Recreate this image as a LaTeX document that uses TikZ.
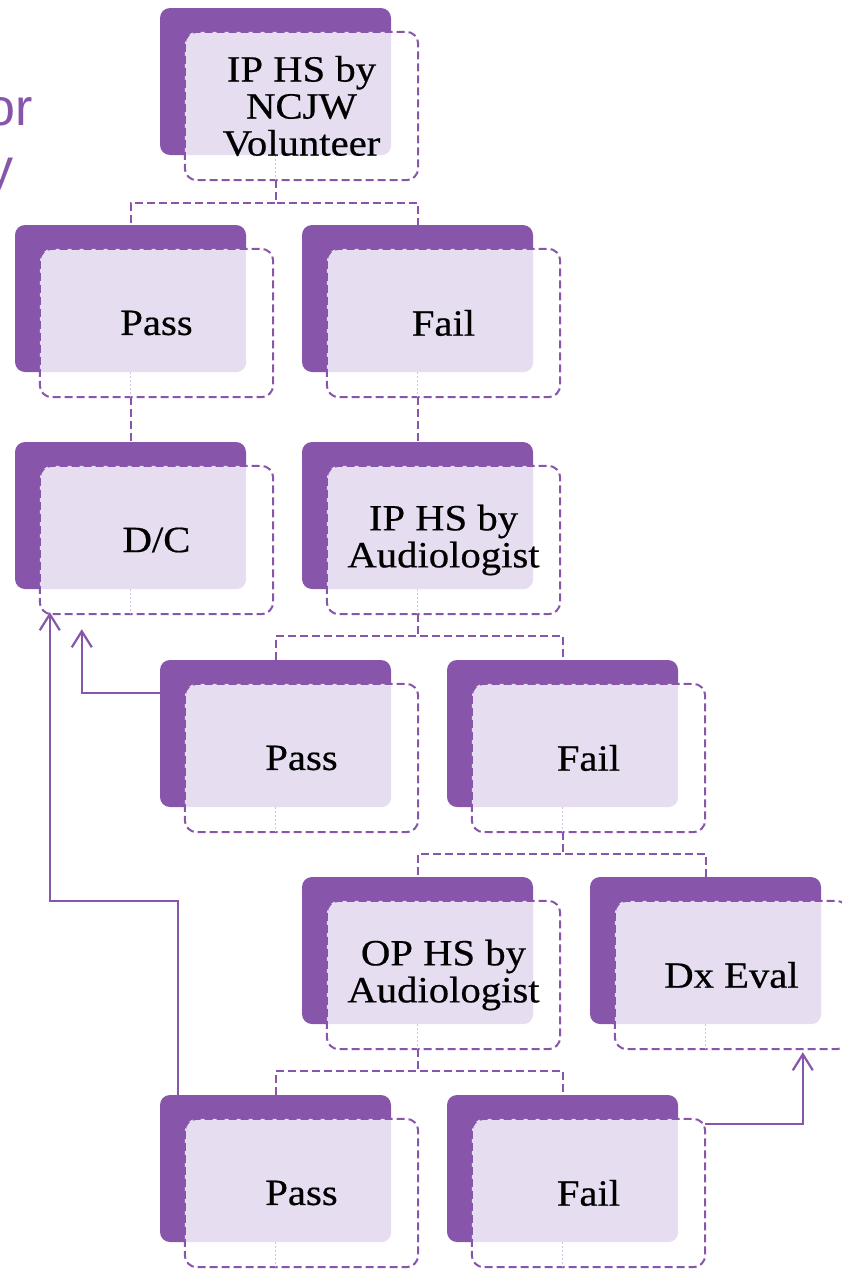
\documentclass[tikz,border=0pt]{standalone}
\usepackage{fontspec}
\setmainfont{Liberation Serif}[FakeStretch=1.1,FakeBold=0.5]
\newfontfamily\titlesans{Liberation Sans}
\usetikzlibrary{arrows.meta,calc}
\definecolor{pur}{HTML}{8755AA}
\definecolor{lav}{HTML}{E6DEF0}
\tikzset{
  backbox/.style={rectangle, fill=pur, rounded corners=10pt, minimum width=231pt, minimum height=147pt, inner sep=0pt},
  frontbox/.style={rectangle, fill=white, rounded corners=12pt, minimum width=233pt, minimum height=148pt, inner sep=0pt},
  frontline/.style={draw=pur, line width=2pt, dash pattern=on 8pt off 4pt, rounded corners=12pt},
  labeltext/.style={font=\fontsize{37}{37}\selectfont, align=center, inner sep=0pt, text=black},
  conn/.style={draw=pur, line width=2pt, dash pattern=on 8pt off 4pt},
  faint/.style={draw=pur!35, line width=1pt, dash pattern=on 2pt off 2pt},
  arr/.style={draw=pur, line width=2.2pt, -{Straight Barb[length=16pt,width=20pt,line width=2.2pt]}},
  titletext/.style={font=\titlesans\fontsize{52}{60}\selectfont, text=pur, inner sep=0pt, anchor=base east}
}
\newcommand\flowbox[4]{%
  \node[backbox] (b#1) at (#2+115.5,#3+73.5) {};
  \node[frontbox] (f#1) at (#2+141.5,#3+98) {};
  \begin{scope}
    \clip[rounded corners=10pt] (b#1.north west) rectangle (b#1.south east);
    \fill[lav, rounded corners=12pt] (f#1.north west) rectangle (f#1.south east);
  \end{scope}
  \draw[frontline] (f#1.north west) rectangle (f#1.south east);
  \draw[faint] (b#1.south) -- (b#1.south |- f#1.south);
  \node[labeltext] (t#1) at (f#1.center) {#4};
}
\begin{document}
\begin{tikzpicture}[x=1pt,y=-1pt]
\useasboundingbox (0,0) rectangle (842,1274);
\node[titletext] (ttl1) at (33,125) {or};
\node[titletext] (ttl2) at (14,185) {y};

\flowbox{1}{160}{8}{IP HS by\\NCJW\\Volunteer}
\flowbox{2}{15}{225}{Pass}
\flowbox{3}{302}{225}{Fail}
\flowbox{4}{15}{442}{D/C}
\flowbox{5}{302}{442}{IP HS by\\Audiologist}
\flowbox{6}{160}{660}{Pass}
\flowbox{7}{447}{660}{Fail}
\flowbox{8}{302}{877}{OP HS by\\Audiologist}
\flowbox{9}{590}{877}{Dx Eval}
\flowbox{10}{160}{1095}{Pass}
\flowbox{11}{447}{1095}{Fail}

% tree connectors
\draw[conn] (b1.south |- f1.south) -- ++(0,23) -| (b2.north);
\draw[conn] (b1.south |- f1.south) -- ++(0,23) -| (b3.north);
\draw[conn] (b2.south |- f2.south) -- (b4.north);
\draw[conn] (b3.south |- f3.south) -- (b5.north);
\draw[conn] (b5.south |- f5.south) -- ++(0,22) -| (b6.north);
\draw[conn] (b5.south |- f5.south) -- ++(0,22) -| (b7.north);
\draw[conn] (b7.south |- f7.south) -- ++(0,22) -| (b8.north);
\draw[conn] (b7.south |- f7.south) -- ++(0,22) -| (b9.north);
\draw[conn] (b8.south |- f8.south) -- ++(0,22) -| (b10.north);
\draw[conn] (b8.south |- f8.south) -- ++(0,22) -| (b11.north);

% solid arrows
\draw[arr] ($(b6.north west)+(0,33)$) -| ($(f4.south west)+(42,15)$);
\coordinate (k2) at ($(b10.north west)+(18,-194)$);
\draw[arr] ($(b10.north west)+(18,0)$) -- (k2) -| ($(f4.south west)+(10,-2)$);
\draw[arr] ($(f11.north east)+(0,5)$) -| ($(f9.south west)+(188,3)$);
\end{tikzpicture}
\end{document}
